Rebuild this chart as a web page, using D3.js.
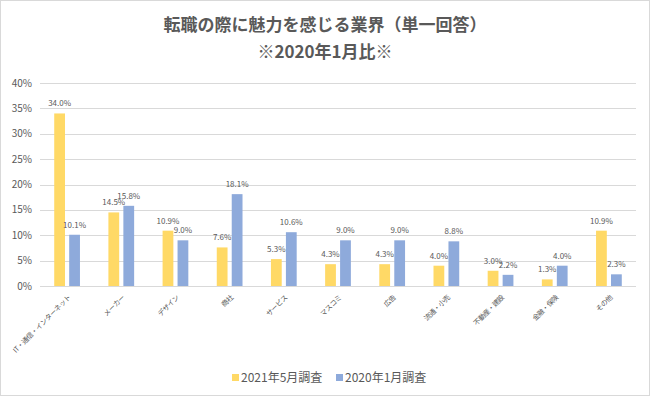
<!DOCTYPE html>
<html>
    <head>
        <meta charset="utf-8">
        <title>転職の際に魅力を感じる業界</title>
        <script src="https://d3js.org/d3.v7.min.js"></script>

        <style type="text/css">
        body {
          margin: 0;
          background: #fff;
          font-family: "Noto Sans CJK JP", "Noto Sans", sans-serif;
        }
        .title {
          font-size: 17px;
          font-weight: bold;
          fill: #595959;
        }
        .grid line {
          stroke: #d9d9d9;
          stroke-width: 1;
        }
        .tick-label {
          font-size: 10px;
          fill: #595959;
        }
        .cat-label {
          font-size: 7px;
          letter-spacing: -0.4px;
          fill: #595959;
        }
        .val-label {
          font-size: 8px;
          fill: #595959;
        }
        .legend-text {
          font-size: 12px;
          fill: #595959;
        }
        </style>

        <script type="text/javascript">

            var categories = ["IT・通信・インターネット", "メーカー", "デザイン", "商社", "サービス",
                              "マスコミ", "広告", "流通・小売", "不動産・建設", "金融・保険", "その他"];
            var seriesNames = ["2021年5月調査", "2020年1月調査"];
            var may2021 = [34.0, 14.5, 10.9, 7.6, 5.3, 4.3, 4.3, 4.0, 3.0, 1.3, 10.9];
            var jan2020 = [10.1, 15.8, 9.0, 18.1, 10.6, 9.0, 9.0, 8.8, 2.2, 4.0, 2.3];
            var yTicks = [0, 5, 10, 15, 20, 25, 30, 35, 40];
            var colors = ["#ffd966", "#8eaadb"];

            function createBarChart() {

              var width = 650, height = 396;
              var left = 40, right = 636, top = 83, bottom = 286;

              var svg = d3.select("body")
                          .append("svg")
                          .attr("width", width)
                          .attr("height", height);

              // frame
              svg.append("rect")
                  .attr("x", 0.5).attr("y", 0.5)
                  .attr("width", width - 1).attr("height", height - 1)
                  .attr("fill", "#fff")
                  .attr("stroke", "#d9d9d9");

              // titles
              svg.append("text")
                  .attr("class", "title")
                  .attr("x", 325).attr("y", 31)
                  .attr("text-anchor", "middle")
                  .text("転職の際に魅力を感じる業界（単一回答）");
              svg.append("text")
                  .attr("class", "title")
                  .attr("x", 325).attr("y", 58)
                  .attr("text-anchor", "middle")
                  .text("※2020年1月比※");

              var x = d3.scaleBand()
                  .domain(categories)
                  .range([left, right]);

              var xs = d3.scaleBand()
                  .domain([0, 1])
                  .range([0, x.bandwidth()])
                  .paddingInner(0.28)
                  .paddingOuter(0.95);

              var y = d3.scaleLinear()
                  .domain([0, 40])
                  .range([bottom, top]);

              // gridlines
              svg.append("g")
                  .attr("class", "grid")
                  .selectAll("line")
                  .data(yTicks)
                  .enter()
                  .append("line")
                  .attr("x1", left)
                  .attr("x2", right)
                  .attr("y1", function(d) { return Math.round(y(d)) + 0.5; })
                  .attr("y2", function(d) { return Math.round(y(d)) + 0.5; });

              // y tick labels
              svg.selectAll("text.tick-label")
                  .data(yTicks)
                  .enter()
                  .append("text")
                  .attr("class", "tick-label")
                  .attr("x", 32)
                  .attr("y", function(d) { return y(d) + 3.5; })
                  .attr("text-anchor", "end")
                  .text(function(d) { return d + "%"; });

              var series = [may2021, jan2020];

              series.forEach(function(values, s) {
                var g = svg.append("g");

                g.selectAll("rect")
                    .data(values)
                    .enter()
                    .append("rect")
                    .attr("x", function(d, i) { return x(categories[i]) + xs(s); })
                    .attr("y", function(d) { return y(d); })
                    .attr("width", xs.bandwidth())
                    .attr("height", function(d) { return bottom - y(d); })
                    .attr("fill", colors[s]);

                g.selectAll("text")
                    .data(values)
                    .enter()
                    .append("text")
                    .attr("class", "val-label")
                    .attr("x", function(d, i) { return x(categories[i]) + xs(s) + xs.bandwidth() / 2; })
                    .attr("y", function(d) { return y(d) - 7; })
                    .attr("text-anchor", "middle")
                    .text(function(d) { return d.toFixed(1) + "%"; });
              });

              // category labels, rotated
              svg.selectAll("text.cat-label")
                  .data(categories)
                  .enter()
                  .append("text")
                  .attr("class", "cat-label")
                  .attr("text-anchor", "end")
                  .attr("transform", function(d) {
                    return "translate(" + (x(d) + x.bandwidth() / 2 + 4) + "," + 298 + ") rotate(-45)";
                  })
                  .text(function(d) { return d; });

              // legend
              var legendX = [232, 336];
              seriesNames.forEach(function(name, s) {
                svg.append("rect")
                    .attr("x", legendX[s]).attr("y", 374)
                    .attr("width", 7).attr("height", 7)
                    .attr("fill", colors[s]);
                svg.append("text")
                    .attr("class", "legend-text")
                    .attr("x", legendX[s] + 9).attr("y", 382)
                    .text(name);
              });
            }

            window.onload = createBarChart;

        </script>
    </head>
    <body>
    </body>
</html>
